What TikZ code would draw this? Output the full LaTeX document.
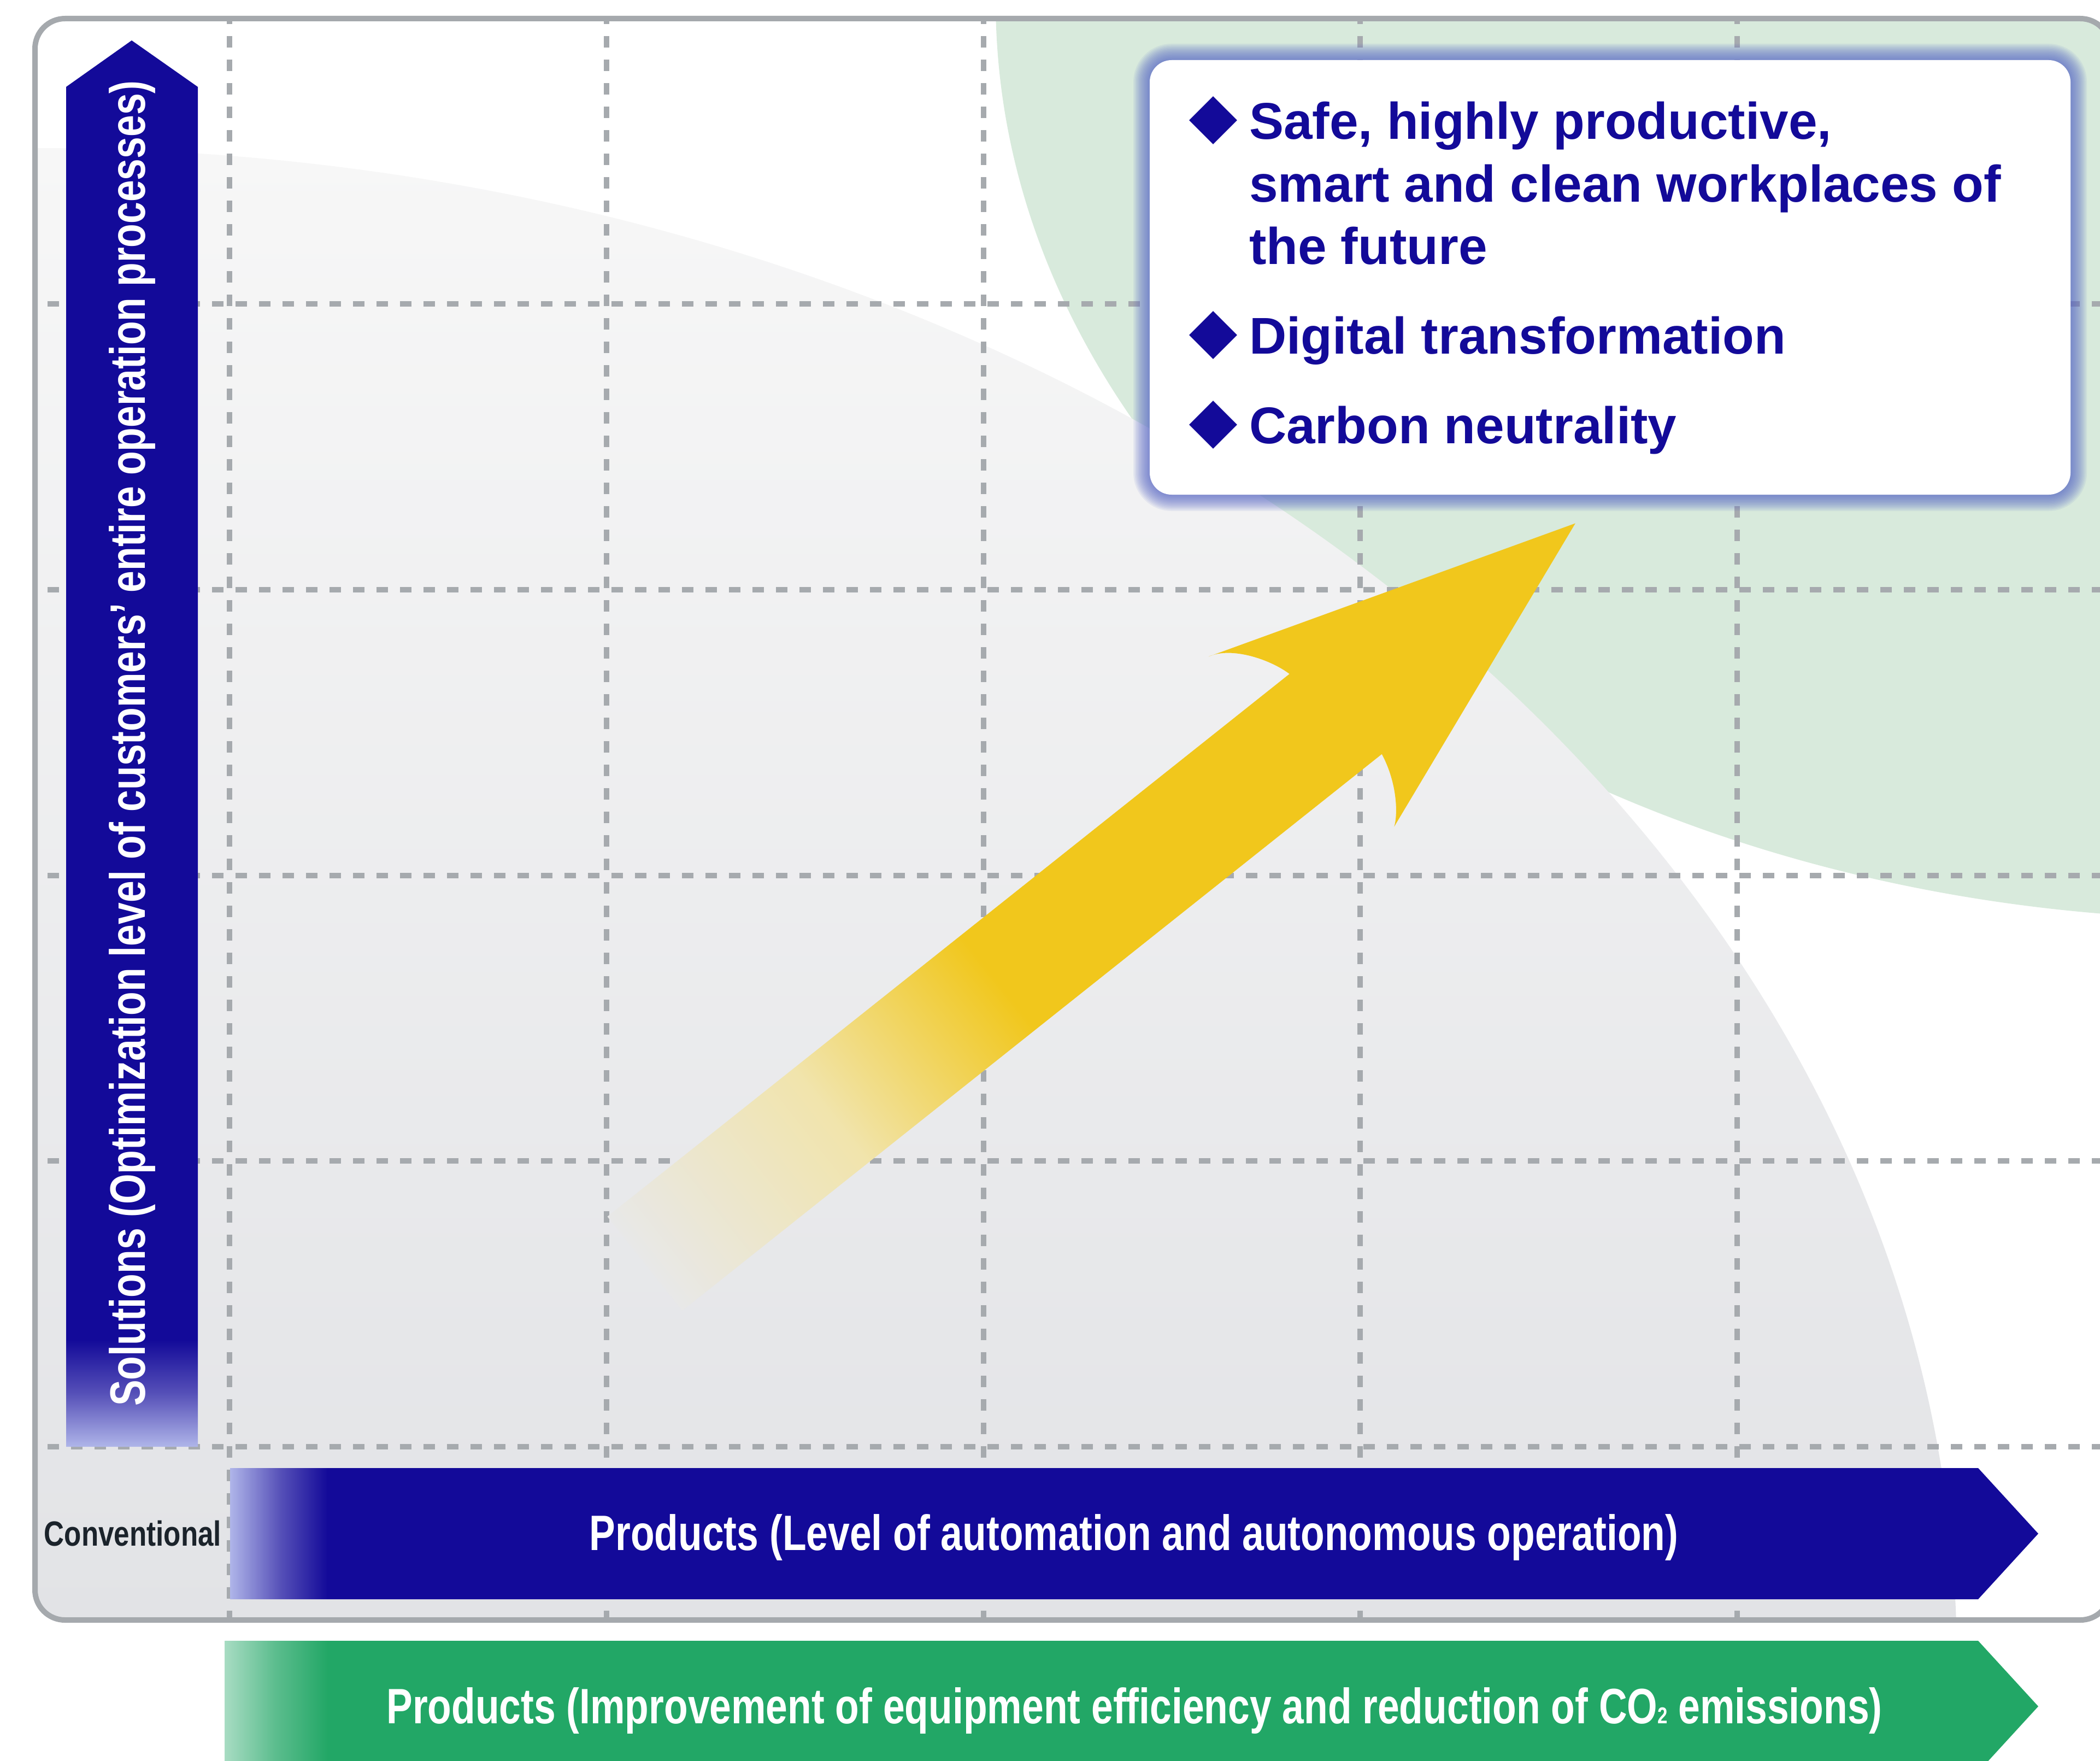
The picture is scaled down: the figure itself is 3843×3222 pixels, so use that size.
\documentclass[tikz,border=0pt]{standalone}
\usepackage{fontspec}
\setmainfont{Liberation Sans}
\newfontfamily\axisfont[FakeStretch=0.785]{Liberation Sans}
\newfontfamily\convfont[FakeStretch=0.8]{Liberation Sans}
\usepackage{tikz}
\usetikzlibrary{shapes.geometric}

\definecolor{navy}{RGB}{19,10,153}
\definecolor{navyLight}{RGB}{175,181,233}
\definecolor{navyMid}{RGB}{86,80,184}
\definecolor{ecoGreen}{RGB}{34,167,102}
\definecolor{ecoLight}{RGB}{168,220,195}
\definecolor{ecoMid}{RGB}{92,189,142}
\definecolor{mint}{RGB}{216,234,220}
\definecolor{frameGray}{RGB}{165,169,173}
\definecolor{gridGray}{RGB}{166,170,174}
\definecolor{gold}{RGB}{241,199,28}
\definecolor{goldPale}{RGB}{241,228,172}
\definecolor{goldTail}{RGB}{232,232,232}
\definecolor{greyTop}{RGB}{247,247,247}
\definecolor{greyBot}{RGB}{226,227,230}
\definecolor{inkDark}{RGB}{27,35,43}
\definecolor{glowBlue}{RGB}{85,101,198}

\pgfdeclareverticalshading{navyup}{100bp}{color(0bp)=(navyLight); color(25bp)=(navyLight); color(26.9bp)=(navyMid); color(28.8bp)=(navy); color(100bp)=(navy)}
\pgfdeclarehorizontalshading{navyright}{100bp}{color(0bp)=(navyLight); color(25bp)=(navyLight); color(26.4bp)=(navyMid); color(27.7bp)=(navy); color(100bp)=(navy)}
\pgfdeclarehorizontalshading{greenright}{100bp}{color(0bp)=(ecoLight); color(25bp)=(ecoLight); color(26.4bp)=(ecoMid); color(27.85bp)=(ecoGreen); color(100bp)=(ecoGreen)}
\pgfdeclarehorizontalshading{goldfade}{100bp}{color(0bp)=(goldTail); color(25bp)=(goldTail); color(35bp)=(goldPale); color(44bp)=(gold); color(100bp)=(gold)}

\begin{document}
\begin{tikzpicture}[x=1pt,y=-1pt,
		gridline/.style={draw=gridGray, line width=10pt, dash pattern=on 21pt off 22pt},
		axislabel/.style={inner sep=0, outer sep=0, text=white, font=\axisfont\bfseries\fontsize{91}{100}\selectfont},
		itemtext/.style={inner sep=0, outer sep=0, anchor=base west, text=navy, font=\bfseries\fontsize{94.5}{94.5}\selectfont},
		bulletmark/.style={diamond, fill=navy, inner sep=0, minimum width=88pt, minimum height=88pt, aspect=1}]
	\useasboundingbox[fill=white] (0,0) rectangle (3843,3222);
	% backdrop, grid
	\begin{scope}
		\clip[rounded corners=55] (64,34) rectangle (3862,2964);
		\fill[mint] (4100,0) ellipse [x radius=2278, y radius=1682];
		\begin{scope}
			\clip (64,3039) ellipse [x radius=3517, y radius=2768];
			\shade[top color=greyTop, bottom color=greyBot] (0,271) rectangle (3843,2970);
		\end{scope}
		\foreach \gx in {420,1110,1800,2489,3179}
			\draw[gridline] (\gx,23) -- (\gx,2964);
		\foreach \gy in {556,1079,1602,2124,2647}
			\draw[gridline] (87,\gy) -- (3843,\gy);
	\end{scope}
	% growth arrow
	\begin{scope}[transform canvas={shift={(1180,2312)}, rotate=38.5}]
		\shade[shading=goldfade] (0,-110) -- (1595,-110)
			.. controls (1585,-150) and (1545,-215) .. (1499,-227) -- (2176,0) -- (1571,228)
			.. controls (1590,215) and (1625,170) .. (1636,110) -- (0,110) -- cycle;
	\end{scope}
	% goal box
	\path (2104,110) coordinate (goalNW) (3789,905) coordinate (goalSE);
	\foreach \i in {1,...,12}
		\draw[glowBlue, opacity=0.09, line width=\i*5pt, rounded corners=40] (goalNW) rectangle (goalSE);
	\fill[white, rounded corners=40] (goalNW) rectangle (goalSE);
	\node[bulletmark] (bul1) at (2220,220) {};
	\node[bulletmark] (bul2) at (2220,613) {};
	\node[bulletmark] (bul3) at (2220,777) {};
	\node[itemtext] (item1a) at (2286,254) {Safe, highly productive,};
	\node[itemtext] (item1b) at (2286,369) {smart and clean workplaces of};
	\node[itemtext] (item1c) at (2286,483) {the future};
	\node[itemtext] (item2) at (2286,647) {Digital transformation};
	\node[itemtext] (item3) at (2286,811) {Carbon neutrality};
	% axes
	\shade[shading=navyup] (121,2647) -- (121,159) -- (241,74) -- (362,159) -- (362,2647) -- cycle;
	\node[axislabel, rotate=90, anchor=base] (solLabel) at (265,1360) {Solutions (Optimization level of customers’ entire operation processes)};
	\shade[shading=navyright] (421,2686) -- (3620,2686) -- (3730,2806) -- (3620,2926) -- (421,2926) -- cycle;
	\node[axislabel, anchor=base] (autoLabel) at (2075,2836) {Products (Level of automation and autonomous operation)};
	\node[inner sep=0, anchor=base, text=inkDark, font=\convfont\bfseries\fontsize{64}{64}\selectfont] (convLabel) at (243,2828) {Conventional};
	\draw[frameGray, line width=10pt, rounded corners=55] (64,34) rectangle (3862,2964);
	\shade[shading=greenright] (411,3002) -- (3620,3002) -- (3730,3122) -- (3620,3242) -- (411,3242) -- cycle;
	\node[axislabel, anchor=base] (ecoLabel) at (2076,3153) {Products (Improvement of equipment efficiency and reduction of CO{\fontsize{42}{42}\selectfont 2} emissions)};
\end{tikzpicture}
\end{document}
